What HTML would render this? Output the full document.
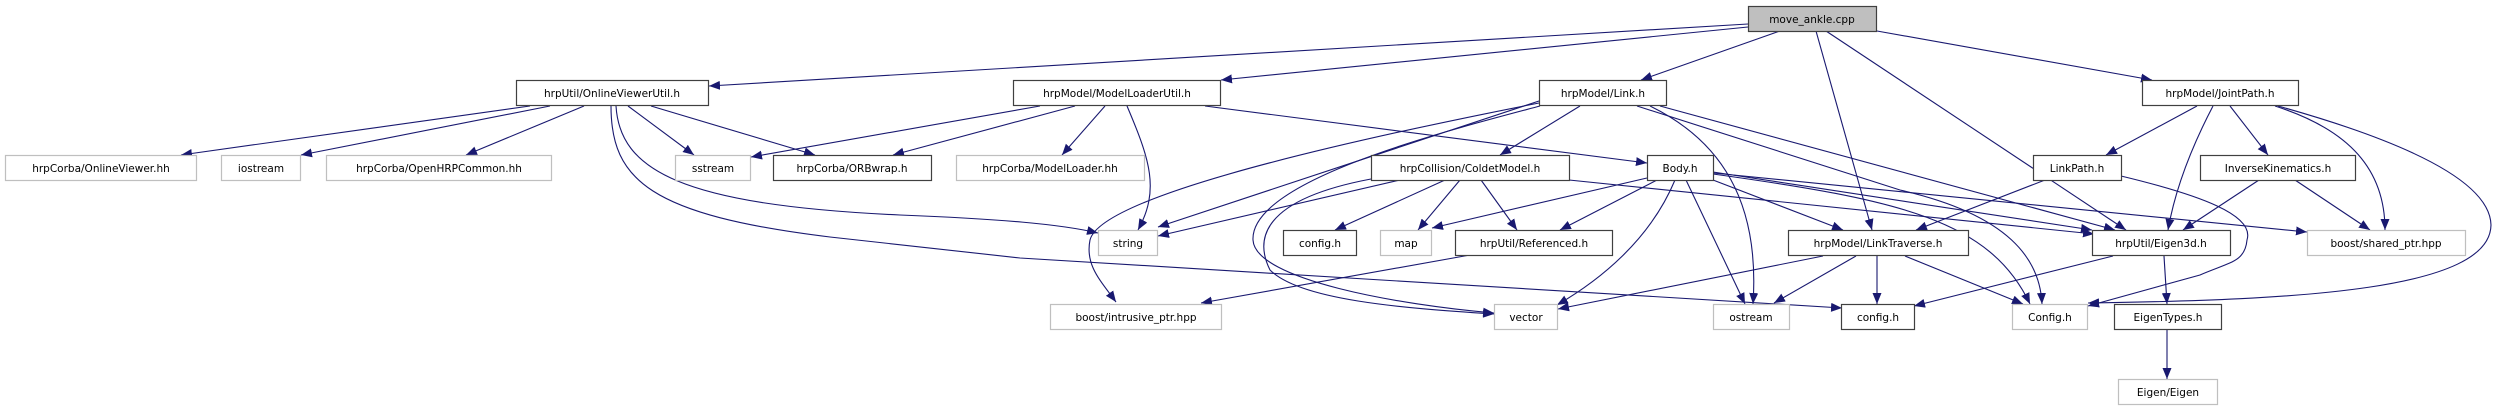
<!DOCTYPE html>
<html><head><meta charset="utf-8"><style>html,body{margin:0;padding:0;background:#fff}svg{display:block}</style></head><body>
<svg width="2497" height="411" viewBox="0 0 2497 411" xmlns="http://www.w3.org/2000/svg">
<defs><marker id="a" markerUnits="userSpaceOnUse" markerWidth="12" markerHeight="10" refX="11" refY="4.5" orient="auto"><path d="M0,0 L11,4.5 L0,9 Z" fill="#191970"/></marker></defs>
<g fill="none" stroke="#191970" stroke-width="1.1" marker-end="url(#a)">
<path d="M1748,24 L709,86"/>
<path d="M1748,27 L1221,80"/>
<path d="M1780,31 L1641,80"/>
<path d="M1816,31 L1872,230"/>
<path d="M1826,31 L2126,230"/>
<path d="M1877,31 L2152,80"/>
<path d="M530,106 L181,155"/>
<path d="M550,106 L301,155"/>
<path d="M584,106 L466,155"/>
<path d="M628,106 L694,155"/>
<path d="M651,106 L815,155"/>
<path d="M616,106 C620,170 680,205 900,215 C1000,219 1060,224 1098,233"/>
<path d="M611,106 C611,180 650,215 830,237 L1020,258 L1842,308"/>
<path d="M1040,106 L751,157"/>
<path d="M1075,106 L893,155"/>
<path d="M1105,106 L1062,155"/>
<path d="M1127,106 C1150,160 1160,190 1138,230"/>
<path d="M1205,106 L1647,163"/>
<path d="M1539,101 L1158,227"/>
<path d="M1539,103 C1300,150 1100,200 1090,240 C1085,265 1100,280 1116,302"/>
<path d="M1540,106 C1450,130 1250,180 1253,240 C1255,280 1400,305 1494,313"/>
<path d="M1580,106 L1500,155"/>
<path d="M1650,106 C1720,140 1760,200 1753,304"/>
<path d="M1637,106 L1900,190 C2010,215 2040,260 2042,304"/>
<path d="M1660,106 L2115,230"/>
<path d="M1647,178 L1432,228"/>
<path d="M1657,180 L1560,230"/>
<path d="M1675,180 C1650,240 1600,280 1557,305"/>
<path d="M1686,180 L1745,304"/>
<path d="M1713,180 L1843,230"/>
<path d="M1713,172 L2092,230"/>
<path d="M1713,174 C1900,200 1990,220 2030,304"/>
<path d="M1713,173 L2307,232"/>
<path d="M1400,180 L1158,236"/>
<path d="M1445,180 L1335,230"/>
<path d="M1460,180 L1418,230"/>
<path d="M1481,180 L1517,230"/>
<path d="M1371,179 C1260,200 1255,240 1270,270 C1300,300 1400,308 1494,314"/>
<path d="M1569,180 L2094,234"/>
<path d="M1470,255 L1201,303"/>
<path d="M1823,256 L1558,309"/>
<path d="M1856,256 L1774,303"/>
<path d="M1877,256 L1877,304"/>
<path d="M1905,256 L2023,304"/>
<path d="M2113,256 L1914,306"/>
<path d="M2164,256 L2167,304"/>
<path d="M2167,330 L2167,379"/>
<path d="M2045,180 L1916,230"/>
<path d="M2121,176 C2200,195 2255,215 2247,240 C2245,262 2230,262 2200,275 L2088,306"/>
<path d="M2197,106 L2106,155"/>
<path d="M2213,106 C2190,150 2175,190 2168,230"/>
<path d="M2230,106 L2268,155"/>
<path d="M2275,106 C2350,130 2385,170 2385,230"/>
<path d="M2278,106 C2400,140 2490,180 2491,225 C2490,290 2300,300 2088,303"/>
<path d="M2259,180 L2183,230"/>
<path d="M2295,180 L2370,230"/>
</g>
<g font-family="'DejaVu Sans','Liberation Sans',sans-serif" font-size="10.5" text-anchor="middle" fill="#000">
<g stroke-width="1.2" fill="#fff">
<rect x="1748.5" y="6.5" width="128" height="25" fill="#bfbfbf" stroke="#404040"/>
<rect x="516.5" y="80.5" width="192" height="25" stroke="#404040"/>
<rect x="1013.5" y="80.5" width="207" height="25" stroke="#404040"/>
<rect x="1539.5" y="80.5" width="127" height="25" stroke="#404040"/>
<rect x="2142.5" y="80.5" width="156" height="25" stroke="#404040"/>
<rect x="5.5" y="155.5" width="191" height="25" stroke="#bfbfbf"/>
<rect x="221.5" y="155.5" width="79" height="25" stroke="#bfbfbf"/>
<rect x="326.5" y="155.5" width="225" height="25" stroke="#bfbfbf"/>
<rect x="675.5" y="155.5" width="75" height="25" stroke="#bfbfbf"/>
<rect x="773.5" y="155.5" width="158" height="25" stroke="#404040"/>
<rect x="956.5" y="155.5" width="188" height="25" stroke="#bfbfbf"/>
<rect x="1371.5" y="155.5" width="198" height="25" stroke="#404040"/>
<rect x="1647.5" y="155.5" width="66" height="25" stroke="#404040"/>
<rect x="2033.5" y="155.5" width="88" height="25" stroke="#404040"/>
<rect x="2200.5" y="155.5" width="155" height="25" stroke="#404040"/>
<rect x="1098.5" y="230.5" width="59" height="25" stroke="#bfbfbf"/>
<rect x="1283.5" y="230.5" width="73" height="25" stroke="#404040"/>
<rect x="1380.5" y="230.5" width="51" height="25" stroke="#bfbfbf"/>
<rect x="1455.5" y="230.5" width="157" height="25" stroke="#404040"/>
<rect x="1788.5" y="230.5" width="180" height="25" stroke="#404040"/>
<rect x="2092.5" y="230.5" width="138" height="25" stroke="#404040"/>
<rect x="2307.5" y="230.5" width="158" height="25" stroke="#bfbfbf"/>
<rect x="1050.5" y="304.5" width="171" height="25" stroke="#bfbfbf"/>
<rect x="1494.5" y="304.5" width="63" height="25" stroke="#bfbfbf"/>
<rect x="1713.5" y="304.5" width="76" height="25" stroke="#bfbfbf"/>
<rect x="1841.5" y="304.5" width="73" height="25" stroke="#404040"/>
<rect x="2012.5" y="304.5" width="75" height="25" stroke="#bfbfbf"/>
<rect x="2114.5" y="304.5" width="107" height="25" stroke="#404040"/>
<rect x="2118.5" y="379.5" width="99" height="25" stroke="#bfbfbf"/>
</g>
<text x="1812" y="23">move_ankle.cpp</text>
<text x="612" y="97">hrpUtil/OnlineViewerUtil.h</text>
<text x="1117" y="97">hrpModel/ModelLoaderUtil.h</text>
<text x="1603" y="97">hrpModel/Link.h</text>
<text x="2220" y="97">hrpModel/JointPath.h</text>
<text x="101" y="172">hrpCorba/OnlineViewer.hh</text>
<text x="261" y="172">iostream</text>
<text x="439" y="172">hrpCorba/OpenHRPCommon.hh</text>
<text x="713" y="172">sstream</text>
<text x="852" y="172">hrpCorba/ORBwrap.h</text>
<text x="1050" y="172">hrpCorba/ModelLoader.hh</text>
<text x="1470" y="172">hrpCollision/ColdetModel.h</text>
<text x="1680" y="172">Body.h</text>
<text x="2077" y="172">LinkPath.h</text>
<text x="2278" y="172">InverseKinematics.h</text>
<text x="1128" y="247">string</text>
<text x="1320" y="247">config.h</text>
<text x="1406" y="247">map</text>
<text x="1534" y="247">hrpUtil/Referenced.h</text>
<text x="1878" y="247">hrpModel/LinkTraverse.h</text>
<text x="2161" y="247">hrpUtil/Eigen3d.h</text>
<text x="2386" y="247">boost/shared_ptr.hpp</text>
<text x="1136" y="321">boost/intrusive_ptr.hpp</text>
<text x="1526" y="321">vector</text>
<text x="1751" y="321">ostream</text>
<text x="1878" y="321">config.h</text>
<text x="2050" y="321">Config.h</text>
<text x="2168" y="321">EigenTypes.h</text>
<text x="2168" y="396">Eigen/Eigen</text>
</g>
</svg>
</body></html>
